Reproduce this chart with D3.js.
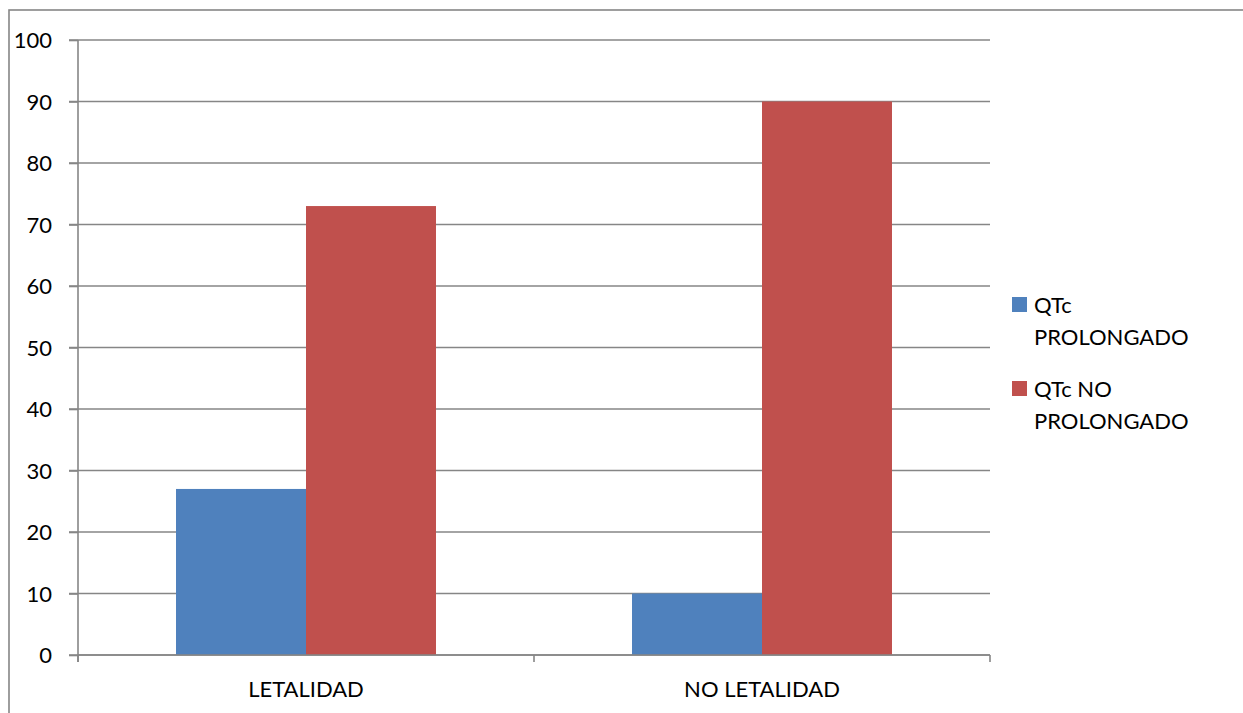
<!DOCTYPE html>
<html>
<head>
<meta charset="utf-8">
<script src="https://cdn.jsdelivr.net/npm/d3@7"></script>
<style>
  body { margin: 0; background: #fff; }
  text { font-family: Lato, "Open Sans", sans-serif; font-size: 22px; fill: #000; }
  .grid line, .frame { stroke: #868686; stroke-width: 1.6; fill: none; }
  .axis path, .axis line { stroke: #868686; stroke-width: 1.6; }
</style>
</head>
<body>
<svg id="chart" width="1243" height="713"></svg>
<script>
const categories = ['LETALIDAD', 'NO LETALIDAD'];
const seriesNames = ['QTc PROLONGADO', 'QTc NO PROLONGADO'];
const seriesLabels = [['QTc', 'PROLONGADO'], ['QTc NO', 'PROLONGADO']];
const prolongado = [27, 10];
const noProlongado = [73, 90];
const yTicks = [0, 10, 20, 30, 40, 50, 60, 70, 80, 90, 100];
const colors = ['#4f81bd', '#c0504d'];

(() => {
  const chart = d3.select('#chart');

  // outer frame, runs off the right and bottom edges
  chart.append('rect').attr('class', 'frame')
    .attr('x', 9).attr('y', 10).attr('width', 1300).attr('height', 800);

  const plotLeft = 78, plotRight = 990, plotTop = 40, plotBottom = 655;
  const y = d3.scaleLinear().domain([0, 100]).range([plotBottom, plotTop]);
  const x0 = d3.scaleBand().domain(categories).range([plotLeft, plotRight]);
  const x1 = d3.scaleBand().domain(seriesNames).range([0, x0.bandwidth()])
    .paddingInner(0).paddingOuter(0.754);

  // gridlines
  chart.append('g').attr('class', 'grid')
    .selectAll('line').data(yTicks).join('line')
    .attr('x1', plotLeft - 9).attr('x2', plotRight)
    .attr('y1', d => y(d)).attr('y2', d => y(d));

  // bars
  const values = [prolongado, noProlongado];
  seriesNames.forEach((s, si) => {
    chart.append('g').selectAll('rect').data(categories).join('rect')
      .attr('x', c => x0(c) + x1(s))
      .attr('width', x1.bandwidth())
      .attr('y', (c, i) => y(values[si][i]))
      .attr('height', (c, i) => plotBottom - y(values[si][i]))
      .attr('fill', colors[si]);
  });

  // y axis
  const yAxis = d3.axisLeft(y).tickValues(yTicks).tickSize(9).tickPadding(17).tickSizeOuter(0);
  const gy = chart.append('g').attr('class', 'axis')
    .attr('transform', `translate(${plotLeft},0)`).call(yAxis);
  gy.selectAll('text').attr('dy', '0.36em');
  gy.select('.domain').attr('d', `M0,${plotTop}V${plotBottom + 7}`);

  // x axis
  const gx = chart.append('g').attr('class', 'axis');
  gx.append('line').attr('x1', plotLeft).attr('x2', plotRight)
    .attr('y1', plotBottom).attr('y2', plotBottom);
  const xTickPos = categories.map(c => x0(c)).concat([plotRight]);
  gx.selectAll('line.tick').data(xTickPos).join('line')
    .attr('class', 'tick')
    .attr('x1', d => d).attr('x2', d => d).attr('y1', plotBottom).attr('y2', plotBottom + 7);
  gx.selectAll('text').data(categories).join('text')
    .attr('x', c => x0(c) + x0.bandwidth() / 2)
    .attr('y', 697)
    .attr('text-anchor', 'middle')
    .text(c => c);

  // legend
  const legend = chart.append('g').attr('transform', 'translate(1012,297)');
  seriesNames.forEach((s, i) => {
    const g = legend.append('g').attr('transform', `translate(0,${i * 84})`);
    g.append('rect').attr('width', 15).attr('height', 15).attr('fill', colors[i]);
    g.selectAll('text').data(seriesLabels[i]).join('text')
      .attr('x', 22).attr('y', (d, j) => 16 + j * 32)
      .text(d => d);
  });
})();
</script>
</body>
</html>
